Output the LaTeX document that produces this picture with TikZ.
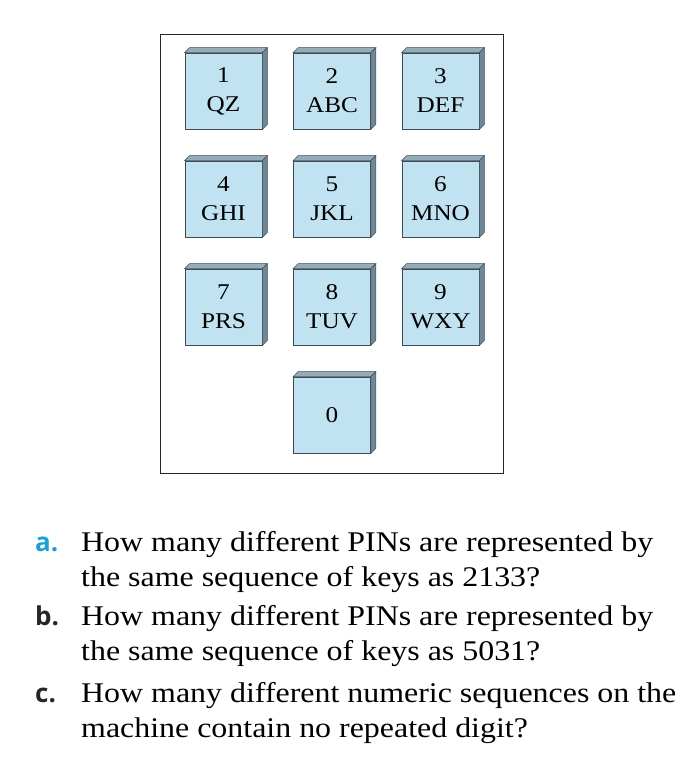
\documentclass[tikz,border=0pt]{standalone}
\usepackage{fontspec}
\setmainfont{Liberation Serif}[FakeStretch=1.12]
\newfontfamily\labelFont{Open Sans}
\usepackage{tikz}
\usetikzlibrary{positioning}
\tikzstyle{keypad} = [x = 1pt, y = -1pt]
\definecolor{keyFace}{RGB}{192,226,241}
\definecolor{keyTop}{RGB}{150,172,184}
\definecolor{keySide}{RGB}{112,136,150}
\definecolor{keyLine}{RGB}{62,76,86}
\definecolor{labelBlue}{RGB}{28,160,212}
\tikzstyle{frameStyle} = [draw=black!85, line width=.9pt]
\tikzstyle{keyFaceStyle} = [draw=keyLine, fill=keyFace, line width=.7pt, minimum width=77pt, minimum height=76pt, inner sep=0pt, align=center, font=\fontsize{22.5}{29}\selectfont]
\tikzstyle{keyTopStyle} = [draw=keyLine, fill=keyTop, line width=.5pt]
\tikzstyle{keySideStyle} = [draw=keyLine, fill=keySide, line width=.5pt]
\tikzstyle{questionText} = [anchor=base west, inner sep=0pt, font=\fontsize{28.5}{35}\selectfont]
\tikzstyle{questionLabel} = [anchor=base west, inner sep=0pt, font=\labelFont\bfseries\fontsize{26}{35}\selectfont]
\newcommand{\keyDepth}{5}
\newcommand{\pinKey}[4]{
  \node [keyFaceStyle] (#1) at (#2, #3) {#4};
  \filldraw [keyTopStyle] (#1.north west) -- ++(\keyDepth, -\keyDepth) -- ([shift={(\keyDepth, -\keyDepth)}]#1.north east) -- (#1.north east) -- cycle;
  \filldraw [keySideStyle] (#1.north east) -- ++(\keyDepth, -\keyDepth) -- ([shift={(\keyDepth, -\keyDepth)}]#1.south east) -- (#1.south east) -- cycle;
}
\newcommand{\question}[5]{
  \node [questionLabel, text=#2] (#1Label) at (35, #3) {#1.};
  \node [questionText] (#1Line) at (81, #3) {#4};
  \node [questionText] (#1Next) at (81, #3 + 35) {#5};
}

\begin{document}
\begin{tikzpicture}[keypad]
  \useasboundingbox (0, 0) rectangle (695, 758);
  \draw [frameStyle] (160, 34) rectangle (503, 473);

  \pinKey{keyOne}{223.5}{91}{1\\QZ}
  \pinKey{keyTwo}{332}{91}{2\\ABC}
  \pinKey{keyThree}{440.5}{91}{3\\DEF}
  \pinKey{keyFour}{223.5}{199}{4\\GHI}
  \pinKey{keyFive}{332}{199}{5\\JKL}
  \pinKey{keySix}{440.5}{199}{6\\MNO}
  \pinKey{keySeven}{223.5}{307}{7\\PRS}
  \pinKey{keyEight}{332}{307}{8\\TUV}
  \pinKey{keyNine}{440.5}{307}{9\\WXY}
  \pinKey{keyZero}{332}{415}{0}

  \question{a}{labelBlue}{551}{How many different PINs are represented by}{the same sequence of keys as 2133?}
  \question{b}{black!85}{625}{How many different PINs are represented by}{the same sequence of keys as 5031?}
  \question{c}{black!85}{702}{How many different numeric sequences on the}{machine contain no repeated digit?}
\end{tikzpicture}
\end{document}
